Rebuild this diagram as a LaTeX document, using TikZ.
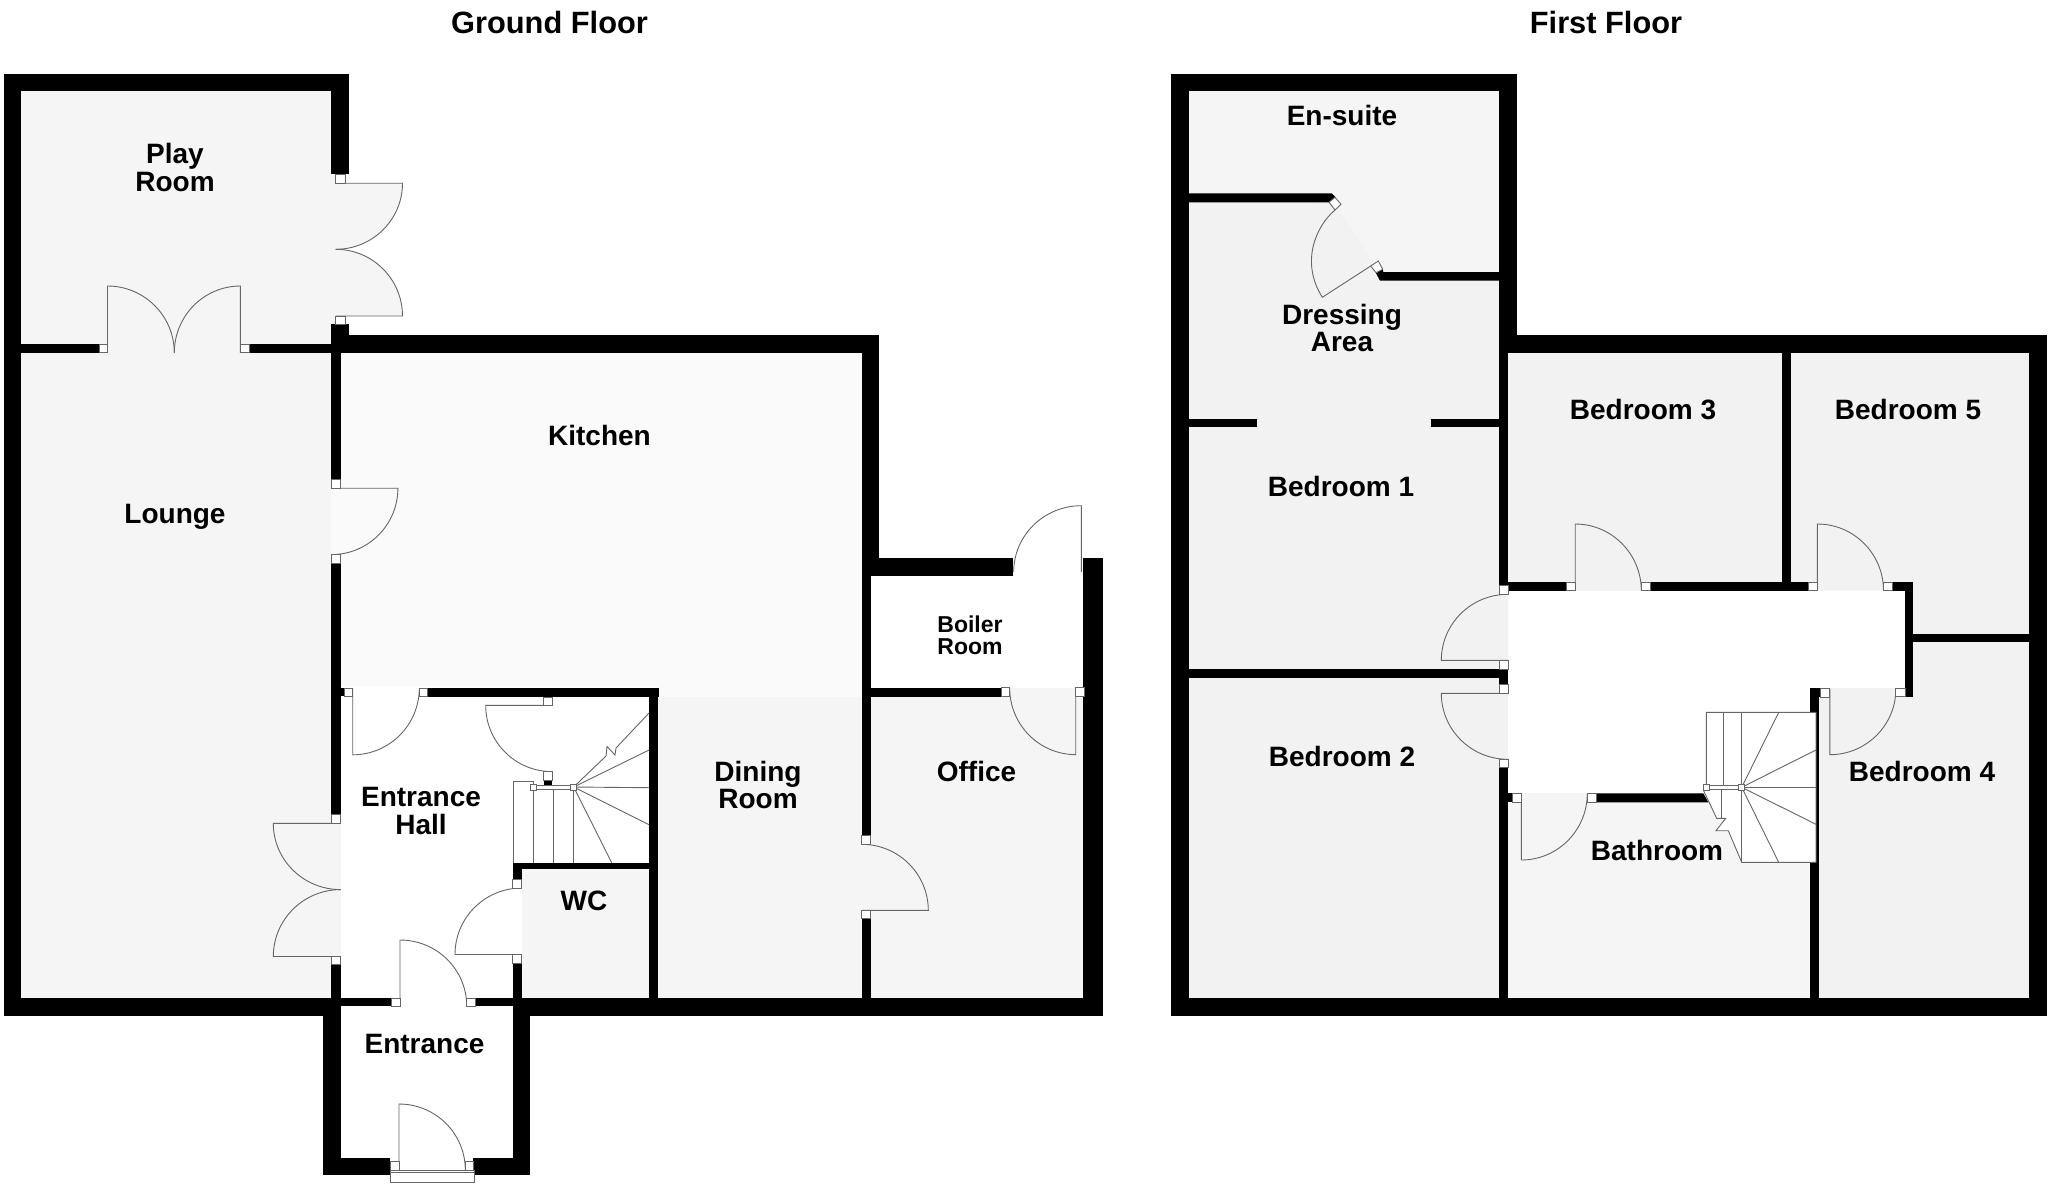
\documentclass[tikz,border=0pt]{standalone}
\usepackage{fontspec}
\setmainfont{Liberation Sans}
\usetikzlibrary{calc}
\definecolor{roomgrey}{HTML}{F5F5F5}
\definecolor{kitchengrey}{HTML}{FAFAFA}
\definecolor{bedgrey}{HTML}{F2F2F2}
\definecolor{linegrey}{HTML}{666666}
\newcommand{\doorleaf}[4][]{\draw[leaf,#1] (#2) -- (#3) .. controls ($(#3)+0.5523*(#4)-0.5523*(#2)$) and ($(#4)+0.5523*(#3)-0.5523*(#2)$) .. (#4);}

\begin{document}
\begin{tikzpicture}[x=1pt,y=-1pt,
    wall/.style={fill=black},
    leaf/.style={draw=linegrey,line width=0.9pt},
    jamb/.style={draw=linegrey,fill=white,line width=0.9pt},
    tread/.style={draw=linegrey,line width=0.9pt},
    label/.style={font=\bfseries\fontsize{28}{27.5}\selectfont,align=center,text=black},
    smalllabel/.style={font=\bfseries\fontsize{23}{22}\selectfont,align=center,text=black},
    title/.style={font=\bfseries\fontsize{30.8}{32}\selectfont,text=black}]
    \useasboundingbox (0,0) rectangle (2048,1187);
    \fill[white] (0,0) rectangle (2048,1187);

    % ground floor rooms
    \fill[roomgrey] (20,90) rectangle (341,998);
    \fill[roomgrey] (331,174) rectangle (345,324);
    \fill[kitchengrey] (340.7,352) -- (862,352) -- (862,696.8) -- (658,696.8) -- (658,686) -- (340.7,686) -- cycle;
    \fill[kitchengrey] (331,488) rectangle (341,555);
    \fill[roomgrey] (658,696.8) rectangle (862,998);
    \fill[roomgrey] (862,696.8) rectangle (1084,998);
    \fill[roomgrey] (1001,687.9) rectangle (1084,697);
    \fill[roomgrey] (521.7,869) rectangle (649,998);

    % first floor rooms
    \fill[roomgrey] (1188,91) -- (1499,91) -- (1499,272) -- (1380,272) -- (1335,203.7) -- (1188,193.3) -- cycle;
    \fill[bedgrey] (1188,193.3) -- (1335,203.7) -- (1380,272) -- (1499,272) -- (1499,594) -- (1508,594) -- (1508,660) -- (1499,660) -- (1499,678) -- (1188,678) -- cycle;
    \fill[bedgrey] (1188,678) rectangle (1508,998);
    \fill[bedgrey] (1507,352) rectangle (1791,590.7);
    \fill[bedgrey] (1782,352) -- (2029,352) -- (2029,642) -- (1905,642) -- (1905,590.7) -- (1782,590.7) -- cycle;
    \fill[bedgrey] (1810,688) -- (1905,688) -- (1905,642) -- (2029,642) -- (2029,998) -- (1810,998) -- cycle;
    \fill[roomgrey] (1508,793.3) rectangle (1810,998);

    % door leaves
    \doorleaf[fill=roomgrey]{335.7,183.2}{402.5,183.2}{335.7,249.3}
    \doorleaf[fill=roomgrey]{335.7,316}{402.5,316}{335.7,249.3}
    \doorleaf{107.5,352.9}{107.5,286}{174.3,352.9}
    \doorleaf{240.4,352.9}{240.4,286}{174.3,352.9}
    \doorleaf{331.4,488.2}{397.9,488.2}{331.4,554.6}
    \doorleaf{340.7,823.4}{273.3,823.4}{340.7,889.6}
    \doorleaf{340.7,956.5}{273.3,956.5}{340.7,889.6}
    \doorleaf{352.7,688}{352.7,754.8}{419.3,688}
    \doorleaf{552,705.4}{485.7,705.4}{552,771.6}
    \doorleaf{521.7,954.5}{455,954.5}{521.7,888}
    \doorleaf{400,1006}{400,940}{466.7,1006}
    \doorleaf{399,1170}{399,1104}{465.3,1170}
    \doorleaf{861.7,910.4}{928.3,910.4}{861.7,844.3}
    \doorleaf{1081.3,572}{1081.3,505.7}{1013.7,572}
    \doorleaf{1075.7,688}{1075.7,754.6}{1009.7,688}
    \doorleaf{1575.2,590.7}{1575.2,524}{1641.3,590.7}
    \doorleaf{1817.4,590.7}{1817.4,524}{1883.5,590.7}
    \doorleaf{1507.9,660.3}{1441.3,660.3}{1507.9,594.3}
    \doorleaf{1507.9,693.3}{1441.3,693.3}{1507.9,759.3}
    \doorleaf{1829.8,688.7}{1829.8,754.7}{1895.9,688.7}
    \doorleaf{1521.3,793.3}{1521.3,860}{1587.3,793.3}
    \draw[leaf] (1370.7,266) -- (1322.3,297.3) .. controls (1300,262) and (1316,226) .. (1335,210);

    % ground floor walls
    \fill[wall] (3.5,73.6) rectangle (21.4,1015.5);
    \fill[wall] (3.5,73.6) rectangle (349.3,91.4);
    \fill[wall] (331.4,73.6) rectangle (349.3,174.3);
    \fill[wall] (331.4,324.3) rectangle (349.3,352.9);
    \fill[wall] (331.4,335) rectangle (879.3,352.9);
    \fill[wall] (21,344) rectangle (99.3,352.9);
    \fill[wall] (249,344) rectangle (331.4,352.9);
    \fill[wall] (331.4,352.9) rectangle (340.7,479.6);
    \fill[wall] (331.4,563) rectangle (340.7,814.6);
    \fill[wall] (331.4,964.5) rectangle (340.7,998);
    \fill[wall] (340.7,688) rectangle (344,696.3);
    \fill[wall] (427.7,688) rectangle (659.3,697);
    \fill[wall] (649,688) rectangle (658,998);
    \fill[wall] (543.7,780) rectangle (552.3,785);
    \fill[wall] (512.7,862.7) rectangle (649,869);
    \fill[wall] (512.7,862.7) rectangle (521.7,879.5);
    \fill[wall] (512.7,963) rectangle (521.7,998);
    \fill[wall] (3.5,998) rectangle (340.7,1015.5);
    \fill[wall] (340.7,998) rectangle (391.7,1006);
    \fill[wall] (475,998) rectangle (512.7,1006);
    \fill[wall] (512.7,998) rectangle (1102.7,1015.5);
    \fill[wall] (322.7,998) rectangle (340.7,1175);
    \fill[wall] (512.7,998) rectangle (530.3,1175);
    \fill[wall] (322.7,1157.5) rectangle (390,1175);
    \fill[wall] (473.3,1157.5) rectangle (530.3,1175);
    \fill[wall] (861.7,335) rectangle (879.3,576.4);
    \fill[wall] (861.7,557.9) rectangle (1012.7,576.4);
    \fill[wall] (1082.7,557.9) rectangle (1102.7,1015.5);
    \fill[wall] (861.7,576) rectangle (870.7,835.4);
    \fill[wall] (861.7,918.6) rectangle (870.7,998);
    \fill[wall] (870.7,687.9) rectangle (1001,696.8);

    % first floor walls
    \fill[wall] (1171,73.7) rectangle (1188.7,1015.5);
    \fill[wall] (1171,73.7) rectangle (1516.7,91.3);
    \fill[wall] (1499,73.7) rectangle (1516.7,352.7);
    \fill[wall] (1499,335.3) rectangle (2047,352.7);
    \fill[wall] (2029,335.3) rectangle (2047,1015.5);
    \fill[wall] (1171,997.7) rectangle (2047,1015.5);
    \fill[wall] (1188.7,193.3) -- (1331.7,193.3) -- (1335.7,197.3) -- (1329.3,202.3) -- (1188.7,202.3) -- cycle;
    \fill[wall] (1383.3,272) -- (1499,272) -- (1499,280.7) -- (1380,280.7) -- (1376,273.3) -- (1382.7,269.3) -- cycle;
    \fill[wall] (1188.7,418.7) rectangle (1256.7,427.3);
    \fill[wall] (1430.7,418.7) rectangle (1499,427.3);
    \fill[wall] (1499,352.7) rectangle (1508,585.7);
    \fill[wall] (1508,582.3) rectangle (1566.5,590.7);
    \fill[wall] (1650.4,582.3) rectangle (1808.3,590.7);
    \fill[wall] (1892.6,582.3) rectangle (1913.2,590.7);
    \fill[wall] (1782.2,352.7) rectangle (1790.9,582.3);
    \fill[wall] (1905,582.3) rectangle (1913.2,696.7);
    \fill[wall] (1913,633.7) rectangle (2029,642.3);
    \fill[wall] (1188.7,669.3) rectangle (1499,678);
    \fill[wall] (1499,669.3) rectangle (1508,684.3);
    \fill[wall] (1499,767.7) rectangle (1508,1015);
    \fill[wall] (1508,793.3) rectangle (1512.7,802.3);
    \fill[wall] (1596.3,793.3) -- (1703.3,793.3) -- (1708.3,802.3) -- (1596.3,802.3) -- cycle;
    \fill[wall] (1810.3,688.3) rectangle (1820.7,697);
    \fill[wall] (1810.3,688.3) rectangle (1819.4,1015);

    % door jambs
    \draw[jamb] (335.7,174.3) rectangle (345,183.2);
    \draw[jamb] (335.7,316) rectangle (345,324.3);
    \draw[jamb] (99.3,344) rectangle (107.5,352.9);
    \draw[jamb] (240.4,344) rectangle (249,352.9);
    \draw[jamb] (331.4,479.6) rectangle (340.7,488.2);
    \draw[jamb] (331.4,554.6) rectangle (340.7,563);
    \draw[jamb] (331.7,814.6) rectangle (340.7,823.4);
    \draw[jamb] (331.7,956.5) rectangle (340.7,964.5);
    \draw[jamb] (344,688) rectangle (352.7,696.3);
    \draw[jamb] (419.3,688) rectangle (427.7,696.3);
    \draw[jamb] (543.7,697) rectangle (552.3,705.4);
    \draw[jamb] (543.7,771.6) rectangle (552.3,780);
    \draw[jamb] (512.7,879.5) rectangle (521.7,888);
    \draw[jamb] (512.7,954.5) rectangle (521.7,963);
    \draw[jamb] (391.7,998) rectangle (400,1006);
    \draw[jamb] (466.7,998) rectangle (475,1006);
    \draw[jamb] (390.3,1161.5) rectangle (399,1170);
    \draw[jamb] (465.3,1161.5) rectangle (473.3,1170);
    \draw[jamb] (390,1170) rectangle (474,1182);
    \draw[leaf] (390,1172.6) -- (474,1172.6);
    \draw[jamb] (861.7,835.4) rectangle (870.7,844.3);
    \draw[jamb] (861.7,910.4) rectangle (870.7,918.6);
    \draw[jamb] (1001,687.9) rectangle (1009.7,696.8);
    \draw[jamb] (1075.7,687.9) rectangle (1084.3,696.8);
    \draw[jamb] (1566.5,582.3) rectangle (1575.2,590.7);
    \draw[jamb] (1641.3,582.3) rectangle (1650.4,590.7);
    \draw[jamb] (1808.3,582.3) rectangle (1817.4,590.7);
    \draw[jamb] (1883.5,582.3) rectangle (1892.6,590.7);
    \draw[jamb] (1895.9,688.3) rectangle (1905,696.7);
    \draw[jamb] (1820.7,688.7) rectangle (1829.8,697);
    \draw[jamb] (1499,585.7) rectangle (1508,594.3);
    \draw[jamb] (1499,660.3) rectangle (1508,669.3);
    \draw[jamb] (1499,684.3) rectangle (1508,693.3);
    \draw[jamb] (1499,759.3) rectangle (1508,767.7);
    \draw[jamb] (1512.7,793.3) rectangle (1521.3,802.3);
    \draw[jamb] (1587.3,793.3) rectangle (1596.3,802.3);
    \draw[jamb] (1335,197.3) -- (1341,204.3) -- (1335,210) -- (1329,202.3) -- cycle;
    \draw[jamb] (1378.3,261) -- (1382.7,269.3) -- (1376,272.7) -- (1370.7,266) -- cycle;

    % ground floor stairs
    \draw[tread] (533.7,781.3) -- (513.3,781.3) -- (513.3,862.7);
    \draw[tread] (533.7,781.3) -- (533.7,862.7);
    \draw[tread] (553.7,787) -- (553.7,862.7);
    \draw[tread] (573.7,787) -- (573.7,862.7);
    \draw[tread] (573.7,787) -- (649,750);
    \draw[tread] (573.7,787) -- (649,787.7);
    \draw[tread] (573.7,787) -- (649,824.7);
    \draw[tread] (573.7,787) -- (611.7,862.7);
    \draw[tread] (573.7,787) -- (606,756) -- (607,746.5) -- (615,755) -- (616,748) -- (649,713);
    \draw[jamb] (533.7,785) rectangle (573.7,789.7);
    \draw[jamb] (530.7,784.5) rectangle (536.7,790.5);
    \draw[jamb] (570.7,784.5) rectangle (576.7,790.5);

    % first floor stairs
    \fill[white] (1703.3,790) -- (1716.7,818.3) -- (1725.7,818.3) -- (1716,830.7) -- (1728.3,830.7) -- (1741.7,862.3) -- (1816,862.3) -- (1816,712.3) -- (1703.3,712.3) -- cycle;
    \draw[tread] (1706.3,785) -- (1706.3,712.3) -- (1816,712.3) -- (1816,862.3) -- (1741.7,862.3) -- (1728.3,830.7) -- (1716,830.7) -- (1725.7,818.3) -- (1716.7,818.3) -- (1703.3,790);
    \draw[tread] (1723.7,712.3) -- (1723.7,785);
    \draw[tread] (1721.3,790) -- (1721.3,818.3);
    \draw[tread] (1741.7,712.3) -- (1741.7,862.3);
    \draw[tread] (1741.7,787.3) -- (1778.7,712.3);
    \draw[tread] (1741.7,787.3) -- (1816,750);
    \draw[tread] (1741.7,787.3) -- (1816,787.3);
    \draw[tread] (1741.7,787.3) -- (1816,824.3);
    \draw[tread] (1741.7,787.3) -- (1778.7,862.3);
    \draw[jamb] (1709,785.5) rectangle (1738.3,789.5);
    \draw[jamb] (1703,784.3) rectangle (1709.3,790.3);
    \draw[jamb] (1738.3,784.3) rectangle (1744.3,790.3);

    % labels
    \node[title] (groundfloor) at (549.5,22.5) {Ground Floor};
    \node[title] (firstfloor) at (1606,22.5) {First Floor};
    \node[label] (playroom) at (175,167.5) {Play\\Room};
    \node[label] (lounge) at (175,517) {Lounge};
    \node[label] (kitchen) at (599.5,435) {Kitchen};
    \node[label] (hall) at (421,811) {Entrance\\Hall};
    \node[label] (wc) at (584,900.5) {WC};
    \node[label] (dining) at (758,785) {Dining\\Room};
    \node[smalllabel] (boiler) at (970,635) {Boiler\\Room};
    \node[label] (office) at (976.5,771) {Office};
    \node[label] (entrance) at (424.5,1043.5) {Entrance};
    \node[label] (ensuite) at (1342,115) {En-suite};
    \node[label] (dressing) at (1342,328) {Dressing\\Area};
    \node[label] (bedone) at (1341,486) {Bedroom 1};
    \node[label] (bedtwo) at (1342,756.5) {Bedroom 2};
    \node[label] (bedthree) at (1643,410) {Bedroom 3};
    \node[label] (bedfive) at (1908,409.5) {Bedroom 5};
    \node[label] (bedfour) at (1922,771.5) {Bedroom 4};
    \node[label] (bathroom) at (1657,850) {Bathroom};
\end{tikzpicture}
\end{document}
